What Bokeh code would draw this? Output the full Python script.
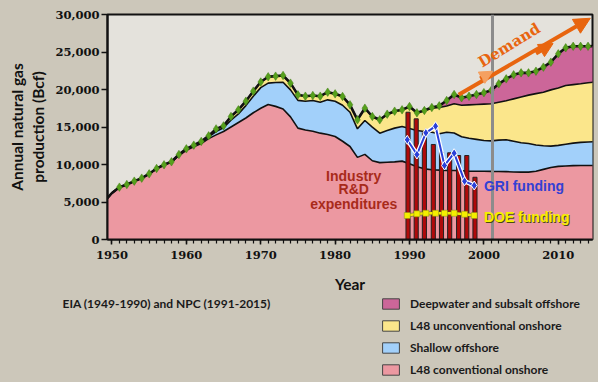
import math
from bokeh.plotting import figure
from bokeh.layouts import column
from bokeh.models import (ColumnDataSource, CDSView, IndexFilter, FixedTicker, NumeralTickFormatter,
                          Range1d, Arrow, NormalHead, Label, Legend, LegendItem)
from bokeh.core.properties import value
from bokeh.transform import stack
from bokeh.embed import file_html
from bokeh.resources import INLINE

# ---------------- data (Bcf) ----------------
years = list(range(1949, 2016))
conv = [5100, 6200, 6980, 7330, 7780, 8180, 8760, 9470, 9960, 10330,
        11200, 11900, 12350, 12800, 13450, 13950, 14400, 15000, 15600, 16200,
        16900, 17500, 18000, 17750, 17400, 16350, 14850, 14600, 14440, 14180,
        14000, 13730, 13100, 12400, 10950, 11350, 10500, 10250, 10300, 10350,
        10450, 10100, 9700, 9420, 9300, 9250, 9200, 9200, 9150, 9100,
        9100, 9100, 9080, 9070, 9050, 9000, 8980, 8980, 9100, 9350,
        9600, 9750, 9800, 9850, 9870, 9870, 9870]
shallow = [0, 0, 0, 0, 0, 0, 0, 0, 0, 20,
           80, 130, 150, 180, 230, 450, 500, 900, 1150, 1650,
           2200, 2750, 2850, 3180, 3570, 3600, 3700, 3840, 4090, 4130,
           4620, 4700, 4800, 4570, 3810, 4520, 4480, 3930, 4230, 4500,
           4620, 4700, 4830, 4980, 5000, 4850, 5100, 5000, 4550, 4400,
           4250, 4100, 4070, 4180, 4240, 4100, 3920, 3820, 3500, 3150,
           2850, 2800, 2900, 3000, 3080, 3130, 3180]
unconv = [0, 0, 0, 0, 0, 0, 0, 0, 0, 10,
          50, 60, 80, 90, 140, 350, 250, 500, 540, 590,
          680, 750, 850, 850, 900, 900, 740, 670, 670, 800,
          1020, 990, 1170, 990, 1200, 1640, 1420, 1780, 2180, 2260,
          2220, 2930, 2360, 2800, 3200, 3500, 3500, 3900, 4200, 4450,
          4650, 4850, 4950, 5050, 5210, 5650, 6100, 6450, 6850, 7140,
          7500, 7650, 7830, 7800, 7810, 7900, 7950]
deep = [0] * 44 + [100, 220, 730, 1230, 1000, 1150,
                   1330, 1530, 1800, 2460, 2920, 3210, 3220, 2970, 2990, 3340,
                   3690, 4560, 5030, 5110, 5000, 4860, 4800]
marker_years = list(range(1951, 2015))

# R&D funding (drawn on the same scale)
industry_x = [1989.8, 1990.9, 1992.0, 1993.2, 1994.3, 1995.4, 1996.6, 1997.7, 1998.8]
industry_rd = [16970, 16090, 14400, 12670, 11600, 11560, 11200, 11200, 8300]
gri_x = [1989.7, 1991.0, 1992.2, 1993.5, 1994.7, 1996.0, 1997.4, 1998.7]
gri_funding = [13290, 11330, 14220, 15110, 9870, 11510, 7780, 7200]
doe_funding = [3200, 3420, 3500, 3500, 3500, 3500, 3370, 3200]
divider_year = [2001.1]

y_ticks = [0, 5000, 10000, 15000, 20000, 25000, 30000]
x_ticks = [1950, 1960, 1970, 1980, 1990, 2000, 2010]
minor_x = list(range(1950, 2015))

series = ["conv", "shallow", "unconv", "deep"]
labels = ["L48 conventional onshore", "Shallow offshore",
          "L48 unconventional onshore", "Deepwater and subsalt offshore"]
colors = ["#ec98a1", "#a2d0fa", "#fbe68b", "#cc6699"]

BG = "#ccc7ba"
PLOT_BG = "#e4e2dc"

p = figure(width=598, height=295, output_backend="svg", toolbar_location=None,
           x_range=Range1d(1949.4, 2014.6), y_range=Range1d(0, 30000),
           min_border_left=107, min_border_right=6, min_border_top=14, min_border_bottom=56)
p.frame_align = False
p.background_fill_color = PLOT_BG
p.border_fill_color = BG
p.outline_line_color = "#111111"
p.outline_line_width = 2
p.grid.visible = False

src = ColumnDataSource(dict(year=years, conv=conv, shallow=shallow, unconv=unconv, deep=deep))

p.varea_stack(stackers=series, x="year", color=colors, source=src)
for i in range(1, 4):
    p.line(x="year", y=stack(*series[:i]), source=src, line_color="#111111", line_width=1.6)
p.line(x="year", y=stack(*series), source=src, line_color="#111111", line_width=2.6)

# industry R&D bars
p.vbar(x=industry_x, top=industry_rd, width=0.55, bottom=0,
       fill_color="#b00a0a", line_color="#222222", line_width=1)

# total markers
idx = [years.index(y) for y in marker_years]
p.scatter(x="year", y=stack(*series), source=src, view=CDSView(filter=IndexFilter(idx)),
          marker="diamond", size=8.5, fill_color="#56a01c", line_color="#3f7d12", line_width=0.5)

# GRI funding
p.line(gri_x, gri_funding, line_color="white", line_width=4.5)
p.line(gri_x, gri_funding, line_color="#2a40d8", line_width=2)
p.scatter(gri_x, gri_funding, marker="diamond", size=9, fill_color="#2a40d8",
          line_color="white", line_width=1)

# DOE funding
p.line(gri_x, doe_funding, line_color="#55551a", line_width=4, line_alpha=0.6)
p.line(gri_x, doe_funding, line_color="#f4ee00", line_width=2.4)
p.scatter(gri_x, doe_funding, marker="square", size=6, fill_color="#f4ee00",
          line_color="#8a8a20", line_width=0.5)

# 2001 divider (glyph, so that the labels sit on top of it)
p.vspan(x=divider_year, line_color="#8c8c8c", line_width=3)

# annotations in plot
p.text(x=[1982.5, 1982.5, 1982.5], y=[8530, 6670, 4800],
       text=["Industry", "R&D", "expenditures"], text_align="center", text_baseline="middle",
       text_color="#a82a1a", text_font=value("Liberation Sans"), text_font_style="bold",
       text_font_size="14px")
p.text(x=[2000.0], y=[7070], text=["GRI funding"], text_align="left", text_baseline="middle",
       text_color="#3340d4", text_font=value("Liberation Sans"), text_font_style="bold",
       text_font_size="14px")
p.text(x=[2000.0], y=[2980], text=["DOE funding"], text_align="left", text_baseline="middle",
       text_color="#4a4a10", text_font=value("Liberation Sans"), text_font_style="bold",
       text_font_size="14px", x_offset=1, y_offset=1)
p.text(x=[2000.0], y=[2980], text=["DOE funding"], text_align="left", text_baseline="middle",
       text_color="#f6f000", text_font=value("Liberation Sans"), text_font_style="bold",
       text_font_size="14px")

# Demand arrow
ORANGE = "#e8650f"
p.add_layout(Arrow(end=NormalHead(size=16, fill_color=ORANGE, line_color=ORANGE),
                   x_start=1996.6, y_start=19300, x_end=2014.3, y_end=29500,
                   line_color=ORANGE, line_width=4))
p.add_layout(Arrow(end=NormalHead(size=14, fill_color=ORANGE, line_color=ORANGE),
                   x_start=2007.0, y_start=24800, x_end=2009.3, y_end=26130,
                   line_color=ORANGE, line_width=4))
p.add_layout(Arrow(end=NormalHead(size=13, fill_color="#f5a060", line_color="#f5a060"),
                   x_start=1999.5, y_start=21460, x_end=2001.2, y_end=22440,
                   line_color=ORANGE, line_width=4))
p.text(x=[2003.4], y=[25900], text=["Demand"], angle=math.radians(31.5),
       text_align="center", text_baseline="middle", text_color=ORANGE,
       text_font=value("DejaVu Serif"), text_font_style="bold", text_font_size="15px")

# axes
p.yaxis.ticker = FixedTicker(ticks=y_ticks)
p.yaxis.formatter = NumeralTickFormatter(format="0,0")
p.xaxis.ticker = FixedTicker(ticks=x_ticks, minor_ticks=minor_x)
for ax in (p.xaxis, p.yaxis):
    ax.axis_line_width = 2
    ax.axis_line_color = "#111111"
    ax.major_tick_line_color = "#111111"
    ax.major_tick_line_width = 1.5
    ax.major_tick_in = 0
    ax.major_label_text_font = "DejaVu Serif"
    ax.major_label_text_font_style = "bold"
    ax.major_label_text_font_size = "11.5px"
    ax.major_label_text_color = "#111111"
    ax.axis_label_text_font = "Lato"
    ax.axis_label_text_font_style = "bold"
    ax.axis_label_text_font_size = "15.5px"
    ax.axis_label_text_color = "#111111"
p.yaxis.major_tick_out = 6
p.yaxis.minor_tick_line_color = None
p.yaxis.major_label_standoff = 2
p.yaxis.axis_label = "Annual natural gas\nproduction (Bcf)"
p.yaxis.axis_label_standoff = 5
p.xaxis.major_tick_out = 5
p.xaxis.minor_tick_out = 4
p.xaxis.minor_tick_in = 0
p.xaxis.minor_tick_line_color = "#111111"
p.xaxis.minor_tick_line_width = 1.2
p.xaxis.major_label_standoff = 6
p.xaxis.axis_label = "Year"
p.xaxis.axis_label_standoff = 13

# ---------------- bottom panel: source note + legend ----------------
p2 = figure(width=598, height=87, output_backend="svg", toolbar_location=None,
            x_range=Range1d(0, 598), y_range=Range1d(0, 87),
            x_axis_location=None, y_axis_location=None, min_border=0)
p2.frame_align = False
p2.background_fill_color = BG
p2.border_fill_color = BG
p2.outline_line_color = None
p2.grid.visible = False

p2.add_layout(Label(x=62, y=79, text="EIA (1949-1990) and NPC (1991-2015)",
                    text_baseline="middle", text_align="left", text_color="#1a1a1a",
                    text_font="Lato", text_font_size="12px", text_font_style="bold"))

nan = float("nan")
items = []
for lab, col in reversed(list(zip(labels, colors))):
    r = p2.quad(left=[nan], right=[nan], top=[nan], bottom=[nan],
                fill_color=col, line_color="#444444", line_width=1)
    items.append(LegendItem(label=lab, renderers=[r]))
leg = Legend(items=items, location=(380, 5), glyph_width=21, glyph_height=13,
             label_height=13, spacing=7, label_standoff=9, padding=0, margin=0,
             background_fill_alpha=0, border_line_alpha=0,
             label_text_font="Lato", label_text_font_size="12px", label_text_font_style="bold",
             label_text_color="#1a1a1a")
p2.add_layout(leg)

layout = column(p, p2, spacing=0)

html = file_html(layout, INLINE)
html = html.replace("</head>", "<style>html,body{background:%s;}</style></head>" % BG, 1)
open("out.html", "w").write(html)
